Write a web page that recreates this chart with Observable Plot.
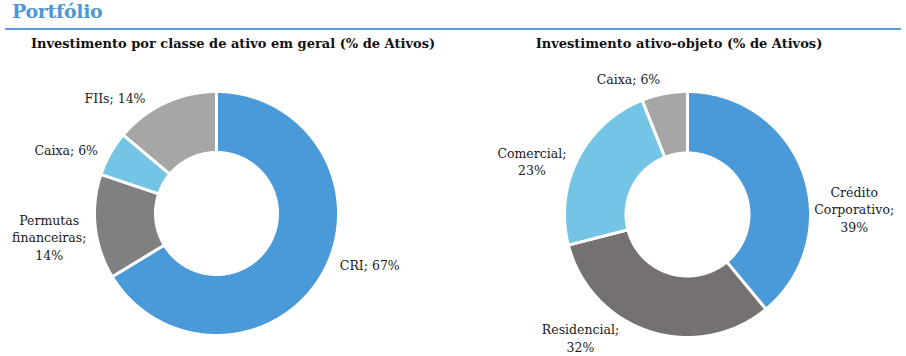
<!DOCTYPE html>
<html>
<head>
<meta charset="utf-8">
<script src="https://cdn.jsdelivr.net/npm/d3@7"></script>
<script src="https://cdn.jsdelivr.net/npm/@observablehq/plot@0.6"></script>
<style>
  html, body { margin: 0; padding: 0; background: #fff; }
  #page { position: relative; width: 906px; height: 356px; overflow: hidden; font-family: "Roboto Slab", "DejaVu Serif", serif; }
  #title { position: absolute; left: 12px; top: 0px; font-size: 19px; font-weight: bold; color: #4f97d2; font-family: "DejaVu Serif", serif; letter-spacing: -0.3px; }
  #rule { position: absolute; left: 5px; top: 28px; width: 896px; height: 2px; background: #5b9bd5; }
  .sub { position: absolute; top: 36px; font-size: 13px; font-weight: bold; color: #111; text-align: center; white-space: nowrap; font-family: "DejaVu Serif", serif; }
  .panel { position: absolute; top: 56px; }
</style>
</head>
<body>
<div id="page">
  <div id="title">Portfólio</div>
  <div id="rule"></div>
  <div class="sub" id="subL" style="left:0;width:466px;">Investimento por classe de ativo em geral (% de Ativos)</div>
  <div class="sub" id="subR" style="left:453px;width:452px;">Investimento ativo-objeto (% de Ativos)</div>
  <div class="panel" id="left" style="left:0;"></div>
  <div class="panel" id="right" style="left:453px;"></div>
</div>
<script>
// ---- data ----
const leftCategories = ["CRI", "Permutas financeiras", "Caixa", "FIIs"];
const leftValues = [67, 14, 6, 14];
const leftLabels = ["CRI; 67%", "Permutas\nfinanceiras;\n14%", "Caixa; 6%", "FIIs; 14%"];

const rightCategories = ["Crédito Corporativo", "Residencial", "Comercial", "Caixa"];
const rightValues = [39, 32, 23, 6];
const rightLabels = ["Crédito\nCorporativo;\n39%", "Residencial;\n32%", "Comercial;\n23%", "Caixa; 6%"];

// ---- style / layout ----
const leftColors = ["#4a99d8", "#808080", "#74c4e6", "#a6a6a6"];
const rightColors = ["#4a99d8", "#767171", "#74c4e6", "#a6a6a6"];
const leftLabelOffsets = [[47, -9], [-46, 10], [-44, -4], [-50, -5]];
const rightLabelOffsets = [[51, 36], [-69, 6], [-46, 2], [-36, -15]];

function donut(el, categories, values, colors, labels, offsets, cfg) {
  const {W, H, cx, cy, R, inner} = cfg;
  const pie = d3.pie().sort(null).value(d => d)(values);
  const rings = [];
  pie.forEach((p, i) => {
    const a0 = p.startAngle, a1 = p.endAngle;
    const n = Math.max(4, Math.ceil((a1 - a0) / (Math.PI / 360)));
    const pts = [];
    for (let k = 0; k <= n; k++) {
      const a = a0 + (a1 - a0) * k / n;
      pts.push({x: Math.sin(a), y: Math.cos(a)});
    }
    for (let k = n; k >= 0; k--) {
      const a = a0 + (a1 - a0) * k / n;
      pts.push({x: inner * Math.sin(a), y: inner * Math.cos(a)});
    }
    pts.push(pts[0]);
    pts.forEach(q => rings.push({...q, cat: categories[i], color: colors[i]}));
  });
  const labelData = pie.map((p, i) => {
    const m = (p.startAngle + p.endAngle) / 2;
    return {
      x: Math.sin(m) + offsets[i][0] / R,
      y: Math.cos(m) - offsets[i][1] / R,
      text: labels[i]
    };
  });
  const plot = Plot.plot({
    width: W, height: H,
    margin: 0, inset: 0,
    x: {domain: [-cx / R, (W - cx) / R], axis: null},
    y: {domain: [-(H - cy) / R, cy / R], axis: null},
    color: {type: "identity"},
    style: {background: "transparent", overflow: "visible"},
    marks: [
      Plot.line(rings, {x: "x", y: "y", z: "cat", fill: "color", stroke: "white", strokeWidth: 3, curve: "linear"}),
      Plot.text(labelData, {x: "x", y: "y", text: "text", fontSize: 12.5, fill: "#1a1a1a",
        fontFamily: "'Roboto Slab', 'DejaVu Serif', serif", lineHeight: 1.4, textAnchor: "middle"})
    ]
  });
  document.getElementById(el).appendChild(plot);
}

donut("left", leftCategories, leftValues, leftColors, leftLabels, leftLabelOffsets,
  {W: 453, H: 300, cx: 216, cy: 157, R: 122, inner: 0.5});
donut("right", rightCategories, rightValues, rightColors, rightLabels, rightLabelOffsets,
  {W: 453, H: 300, cx: 234, cy: 158, R: 123, inner: 0.5});
</script>
</body>
</html>
